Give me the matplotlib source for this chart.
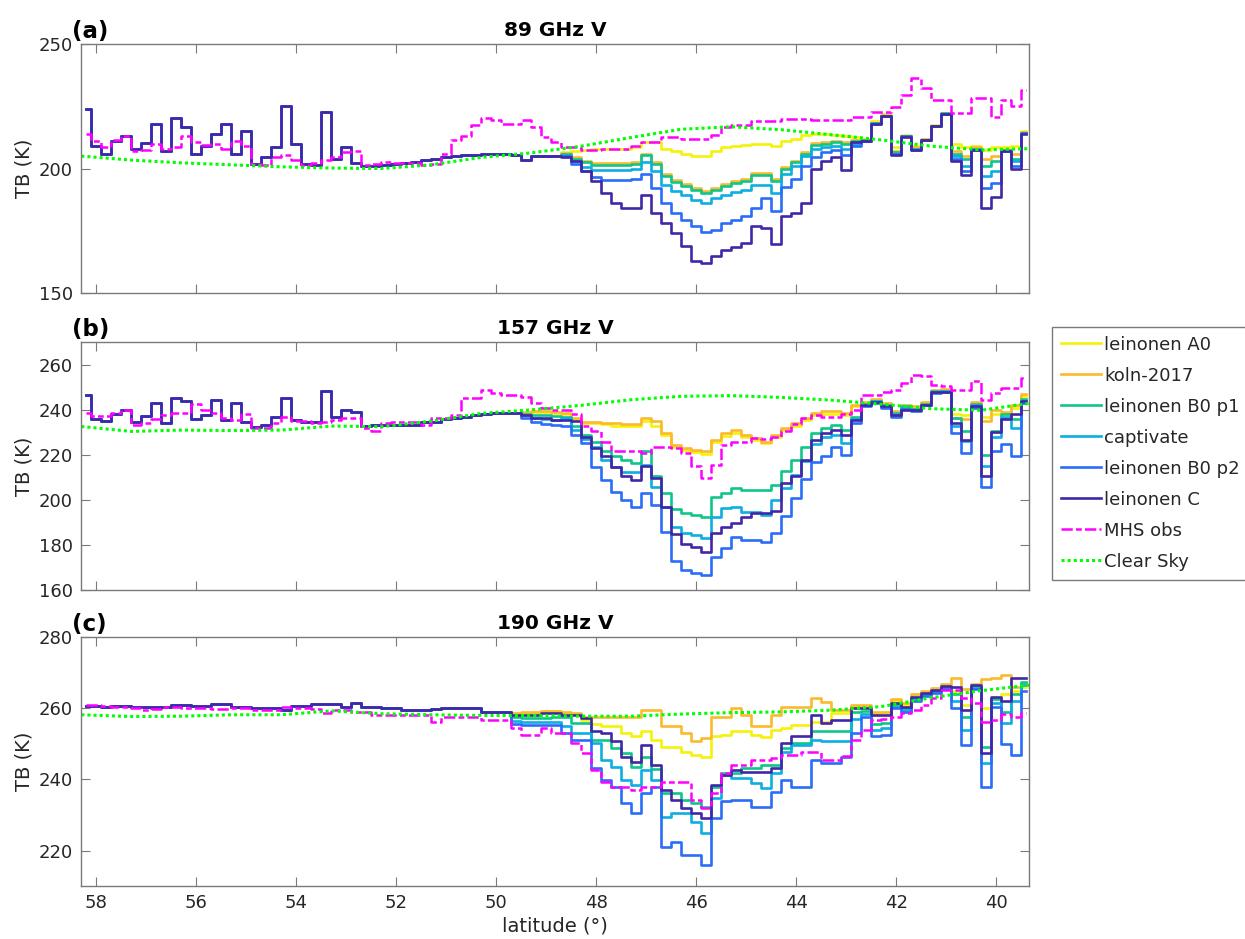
import matplotlib
matplotlib.use("Agg")
import matplotlib.pyplot as plt

# latitude of each footprint (bin centres, 0.2 deg)
lat = [58.2, 58.0, 57.8, 57.6, 57.4, 57.2, 57.0, 56.8, 56.6, 56.4, 56.2, 56.0,
       55.8, 55.6, 55.4, 55.2, 55.0, 54.8, 54.6, 54.4, 54.2, 54.0, 53.8, 53.6,
       53.4, 53.2, 53.0, 52.8, 52.6, 52.4, 52.2, 52.0, 51.8, 51.6, 51.4, 51.2,
       51.0, 50.8, 50.6, 50.4, 50.2, 50.0, 49.8, 49.6, 49.4, 49.2, 49.0, 48.8,
       48.6, 48.4, 48.2, 48.0, 47.8, 47.6, 47.4, 47.2, 47.0, 46.8, 46.6, 46.4,
       46.2, 46.0, 45.8, 45.6, 45.4, 45.2, 45.0, 44.8, 44.6, 44.4, 44.2, 44.0,
       43.8, 43.6, 43.4, 43.2, 43.0, 42.8, 42.6, 42.4, 42.2, 42.0, 41.8, 41.6,
       41.4, 41.2, 41.0, 40.8, 40.6, 40.4, 40.2, 40.0, 39.8, 39.6, 39.4]

lat_clear = [58.3, 57.3, 56.3, 55.3, 54.3, 53.3, 52.3, 51.3, 50.3, 49.3,
             48.3, 47.3, 46.3, 45.3, 44.3, 43.3, 42.3, 41.3, 40.3, 39.3]

labels = ["leinonen A0", "koln-2017", "leinonen B0 p1", "captivate",
          "leinonen B0 p2", "leinonen C"]
colors = ["#F5F20A", "#FBB92C", "#0FC68A", "#0CAFE0", "#2B6DF7", "#4127A8"]

###############################################################################
# 89 GHz V
shared_89 = [224, 209, 206, 211, 213, 208, 210.2, 218, 207, 220.5, 216.8, 206,
             209, 214, 218, 206, 215, 202, 204.8, 208.7, 225, 210, 202, 201.5,
             222.6, 204, 208.5, 202.3, 201.2, 201, 201.3, 201.8,
             202.2, 202.8, 203.5, 204, 204.5, 205, 205.3, 205.5, 205.8, 205.8,
             205.8, 205.5, 203.5, 205, 205, 205]

a0_89 = shared_89 + [206.5, 207, 207.5, 208, 208, 208, 208, 208.5, 210.5, 210.5,
                     208, 207, 206, 205.2, 205, 207, 208.5, 209, 209.5, 210, 210,
                     209, 211, 212, 213.5, 214, 214, 213.5, 213, 212.5] + \
    [212, 219, 222, 208.5, 213.5, 209, 212, 217.5, 222.5, 210, 208.5, 209, 207.5,
     208.5, 208.5, 209, 215]
koln_89 = shared_89 + [206.3, 204.5, 203, 202.2, 202.2, 202.2, 202.2, 202.7, 206,
                       202.7, 197.8, 195.3, 193.8, 192.3, 190.8, 192.3, 193.8,
                       194.8, 195.8, 198.2, 198.2, 195.8, 200.7, 203.2, 206.7,
                       210.2, 210.7, 211.2, 210.7, 211.6] + \
    [211.5, 218.5, 221.5, 207, 213, 208.5, 211.8, 217.2, 222.3, 207, 205, 208.5,
     204, 205, 207.5, 206, 214.5]
b0p1_89 = shared_89 + [206, 204, 202.5, 201.5, 201.5, 201.5, 201.5, 202, 205.4,
                       202, 197, 194.5, 193, 191.5, 190, 191.5, 193, 194, 195,
                       197.5, 197.5, 195, 200, 202.5, 206, 209.5, 210, 210.5,
                       210, 211] + \
    [211.3, 218.3, 221.3, 206.5, 213, 208, 211.6, 217.1, 222.2, 206, 204, 208,
     201, 203, 207.3, 204, 214.3]
capt_89 = shared_89 + [205.5, 203, 200.5, 199.5, 199.4, 199.4, 199.4, 200, 202.7,
                       199, 193.5, 191, 189.3, 187.5, 186, 188, 189.5, 190.5,
                       191.5, 193.4, 193.4, 190, 198, 201, 205, 208, 208.5, 209,
                       208, 210] + \
    [211.2, 218.2, 221.2, 206, 212.9, 207.7, 211.5, 217, 222.1, 205, 201, 207.7,
     197, 199, 207.2, 203, 214.2]
b0p2_89 = shared_89 + [205, 202, 199, 196.5, 195.4, 195.4, 195.4, 196, 198, 192,
                       186, 182, 179.3, 177, 174.6, 175.5, 178, 179.5, 181, 184,
                       188, 183, 192.7, 196, 201, 204.8, 206.5, 207.4, 205.5,
                       209] + \
    [211.1, 218.1, 221.1, 205.7, 212.9, 207.5, 211.5, 217, 222, 204, 199, 207.5,
     192, 194, 207.1, 201, 214.1]
c_89 = shared_89 + [204.5, 203, 199, 195, 190, 186, 184, 184, 189.4, 182, 178,
                    174, 169, 163, 162, 165, 167.3, 168.5, 170, 177, 176, 169.5,
                    181, 182, 186, 200, 203, 204.8, 199.5, 210.5] + \
    [211, 218, 221, 205.4, 212.8, 207.4, 211.4, 217, 222, 203, 197.4, 207.4,
     184, 188.7, 207, 200, 214]
mhs_89 = [214, 211, 208.8, 211.5, 213, 207, 207.5, 210, 208, 208.8, 213, 210.5,
          209.5, 210, 208, 211, 209, 202, 201.5, 204.5, 205.5, 203.5, 201.5,
          202.3, 203.6, 204.5, 206.5, 207, 201.4, 201.8, 202.8, 202.3,
          202.3, 202.3, 201.6, 202, 206, 211.5, 213, 217.5, 220.5, 219.5, 218,
          218, 219.5, 216.8, 212.8, 210.8, 208.8, 208.8, 207.4, 207.4, 208, 208,
          208, 209, 210.8, 210.8, 212.8, 212.8, 212, 212, 212, 213.5, 216.8,
          217.5, 217.5, 219.2, 219.2, 219.2, 220.1, 220.1, 220.1, 219.5, 219.5,
          219.5, 219.5, 220.8, 220.8, 222.8, 222.8, 224.8, 229.5, 236.2, 232.2,
          227.5, 227.5, 222.2, 222.2, 228.2, 228.2, 220.8, 227.5, 225, 231.5]
clear_89 = [205, 203.4, 202.3, 201.5, 200.7, 200.2, 200, 201.5, 204.5, 206.3,
            209, 212.5, 215.8, 216.8, 215.6, 213.6, 211.5, 209, 207.5, 208]

###############################################################################
# 157 GHz V
shared_157 = [246.7, 236, 235, 238.2, 240, 234.8, 237.3, 243, 234, 245.2, 243.7,
              236, 237.8, 244.5, 235.6, 243, 234.8, 232.3, 233.3, 237, 245.2,
              235.6, 234.4, 234.4, 248.4, 236.7, 240, 239, 233, 233.3, 233.3,
              233.3, 233.3, 233.3, 234.8, 234.8, 236, 236.5, 237, 237.5, 238,
              238.5, 238.5, 238.5]

a0_157 = shared_157 + [238.8, 239, 239, 238.8] + \
    [238, 236, 234.3, 234.3, 233.6, 233, 232.6, 232.6, 235, 233, 228.9, 223.5,
     222.3, 221.2, 220.5, 225.7, 228.2, 229.6, 228, 226.6, 225.2, 228, 231, 233,
     235.3, 237.5, 238.3, 238.3, 237.8, 241.5] + \
    [243, 244.5, 242.5, 239, 241.5, 241, 243, 248.5, 249, 238, 237.5, 243, 237,
     238, 238, 241, 246]
koln_157 = shared_157 + [239, 239.3, 239.3, 239] + \
    [238.5, 236.5, 234.8, 234.8, 234.1, 234.1, 233.8, 233.8, 236.3, 235, 229.6,
     224.5, 223, 222.2, 221.5, 226.7, 229.6, 231.1, 228.9, 227.4, 225.9, 228.9,
     232, 234.1, 236.3, 238.5, 239.3, 239.3, 238.5, 242.2] + \
    [243.5, 245, 243, 239.5, 242, 241.5, 243.5, 248.7, 249.2, 236.5, 236, 243.5,
     235, 240, 239, 242, 247]
b0p1_157 = shared_157 + [238, 237.5, 237.5, 237.3] + \
    [237, 232.6, 229, 225.9, 221.5, 219.3, 217.5, 216.3, 221.5, 210.4, 203, 196,
     194.1, 193.3, 192.6, 201.5, 203, 205.2, 204.4, 204.4, 204.4, 206.7, 213,
     217.5, 223.4, 229.6, 231.9, 233.3, 231, 237] + \
    [242.5, 244, 242, 238.5, 241.5, 240.5, 242.5, 248.2, 248.5, 236.3, 230.4,
     242.5, 220, 230.4, 238, 236, 245]
capt_157 = shared_157 + [237.5, 236.5, 236, 235.5] + \
    [236.3, 231.1, 227, 223.7, 217.8, 214.8, 212.6, 212.6, 215.5, 205.9, 197, 188,
     185.2, 184.4, 183, 192.6, 196.3, 197, 194.8, 194.8, 193.3, 200, 205.5, 211,
     217.4, 225, 228.1, 228.9, 225.2, 236] + \
    [242.2, 243.8, 241.8, 238, 241, 240.2, 242.3, 248, 248.3, 233, 226, 242, 215,
     228, 237, 232, 244]
b0p2_157 = shared_157 + [236.5, 234.5, 233.5, 233.3] + \
    [232.6, 229, 225.2, 214.8, 208.9, 203.7, 200, 197, 203, 197.8, 185.9, 173,
     168.9, 167.4, 166.7, 174.8, 178.5, 183.7, 182.2, 182.2, 181.5, 185.2, 193,
     201, 209.2, 216.7, 219.3, 223.7, 220, 234] + \
    [241.5, 243, 241, 237, 240.5, 239.5, 242, 247.5, 248, 229.6, 220.7, 241,
     205.9, 221.5, 225, 219.3, 243]
c_157 = shared_157 + [237.5, 236.3, 236.3, 235.5] + \
    [235.6, 235, 228.1, 223, 219.3, 214.8, 210.4, 208.9, 215, 209.6, 197, 185,
     180.5, 179.3, 177, 185.2, 188.1, 189.6, 192.6, 194.1, 194.1, 195, 207.4,
     210.4, 217.8, 226.6, 229.6, 231.1, 229, 235.6] + \
    [242, 243.5, 241.5, 237.8, 240, 240, 242.2, 248, 248.1, 234.1, 226.7, 241.5,
     210.4, 230, 236, 238, 243.7]
mhs_157 = [238.5, 237.3, 237.3, 238.8, 240, 233.3, 234, 236, 237.5, 238.5, 238.5,
           242.7, 240, 238.5, 236.3, 235.6, 238, 231.9, 231.9, 234, 236.7, 235.1,
           235, 234, 234.8, 235.6, 236.3, 236.3, 231.9, 230.4, 234, 234.8,
           234.8, 234.8, 233.3, 236.3, 236.3, 237.5, 245.2, 245.2, 248.9, 247.4,
           246.7, 246.7, 245.9, 243, 240.7, 240,
           240, 238, 233, 230.4, 225.9, 221.5, 221.5, 221.5, 221, 223.7, 223.5,
           223, 220.7, 215, 209.6, 215.6, 224.4, 225.9, 225.9, 227.4, 227, 228.1,
           230.4, 233.7, 236.3, 237.8, 237, 237, 238, 240,
           246.7, 246.7, 248, 248.9, 251.9, 255.6, 255, 251.1, 250.4, 248.9, 249,
           253, 244.4, 247.4, 249.6, 249.6, 254]
clear_157 = [232.6, 230.4, 231, 230.8, 231, 232.8, 232.5, 235, 238.4, 240, 242,
             244.5, 246, 246.3, 245.5, 244.3, 242.5, 240.5, 239.8, 243]

###############################################################################
# 190 GHz V
shared_190 = [260.7, 260.7, 260.5, 260.7, 260.7, 260.3, 260.3, 260.5, 260.5,
              260.9, 260.9, 260.7, 260.7, 261.3, 261.2, 260.3, 260.3, 260, 260,
              260, 259.6, 260.7, 260.7, 261.3, 261.3, 261.3, 260.5, 261.5, 260.3,
              260.3, 260, 260, 259.6, 259.6, 259.6, 259.8, 260, 260, 260, 260,
              259.1, 259.1, 259.1]

a0_190 = shared_190 + \
    [258.8, 258.8, 258.8, 259.2, 259.2, 258.8, 258.5, 256.8, 255.5, 254.9, 254.9,
     253, 252.3, 253.5, 251.1, 249.2, 249.2, 247.8, 246.9, 246.4, 252.1, 252.5,
     253.5, 253.5, 252.5, 252, 253.9, 254.5, 255.4, 255.4, 256.3, 256.3, 258.6,
     258.6, 260.5] + \
    [260.5, 258.5, 258.7, 262, 261, 263.8, 264.6, 265.4, 266.4, 265, 261, 266.2,
     260, 263, 264, 265, 266]
koln_190 = shared_190 + \
    [258.8, 259, 259, 259.3, 259.3, 259, 258.6, 257.7, 257.7, 257.7, 257.7, 257.7,
     257.7, 259.6, 259.6, 254.9, 254.9, 253, 250.7, 251.6, 257.7, 257.7, 260,
     258.2, 254.9, 254.9, 258.2, 260.5, 260.5, 260.5, 262.9, 261.9, 259.6, 259.6,
     261] + \
    [261, 259, 259, 262.5, 261.5, 264, 265, 265.8, 266.8, 268.5, 265.5, 266.8,
     268.3, 268.5, 269.5, 266, 267]
b0p1_190 = shared_190 + \
    [257.5, 257.2, 257.2, 257.2, 257.5, 257.5, 255.8, 255.8, 251.1, 251.1, 248.8,
     247.4, 243.6, 246.4, 243, 236.1, 236.1, 234.2, 233.3, 232.3, 238, 241.7,
     241.7, 243.1, 243.1, 244.1, 244.1, 248.8, 250.2, 250.2, 253.5, 253.5, 253.5,
     253.5, 259.1] + \
    [259.3, 255.5, 256, 261, 260, 263, 264, 265, 266, 264, 257.7, 266.2, 249.2,
     262.5, 259, 264, 267.5]
capt_190 = shared_190 + \
    [256.5, 256.3, 256.3, 256.3, 256.3, 255, 253, 253, 250.2, 245.5, 243.6, 239.9,
     238.5, 242.7, 239.9, 229.5, 230.5, 230.5, 228.1, 224.8, 234.7, 241.3, 240.3,
     240.3, 238.9, 237.5, 241.7, 247.8, 249.7, 249.7, 251.1, 250.7, 250.7, 250.7,
     257] + \
    [258.5, 254, 254.5, 260.5, 259.5, 262.5, 263.7, 264.7, 265.7, 262, 254,
     265.8, 244.6, 261.5, 256, 262, 266.5]
b0p2_190 = shared_190 + \
    [255.5, 255.4, 255.4, 255.4, 255.4, 253, 251.1, 251.1, 243.1, 239.9, 238,
     233.3, 230.5, 236.1, 238, 221.1, 222.5, 218.7, 218.7, 216, 229.1, 233.8,
     234.2, 234.2, 232.3, 232.3, 236.6, 239.9, 238, 238, 245.5, 244.6, 244.6,
     246.4, 253] + \
    [257.5, 252.1, 252.5, 260, 259, 262, 263.4, 264.4, 265.4, 260, 249.7, 265.5,
     238, 260.5, 250, 247, 265]
c_190 = shared_190 + \
    [258.2, 258.2, 258.2, 258.8, 258.8, 258.2, 258.2, 257.2, 253.5, 253, 250.7,
     246.4, 245, 249.7, 244, 237, 234.2, 231.9, 230.5, 229.1, 238.5, 241.3, 242.7,
     242.2, 242.2, 242.2, 243.1, 250.2, 252.1, 252.1, 258.2, 255.8, 256.8, 256.8,
     260] + \
    [260, 258, 258.2, 261.5, 260.5, 263.3, 264.3, 265.2, 266.2, 266, 259.6, 266.6,
     247.4, 263.3, 262, 268.5, 268.5]
mhs_190 = [261, 260.9, 260.6, 260.5, 260.5, 260, 259.6, 259.8, 260.3, 260.3,
           260.1, 260, 260, 259.8, 259.8, 260, 260, 259.6, 259.6, 259.6, 260.3,
           260, 260, 259.8, 258.6, 259.6, 259.6, 259, 259, 258.2, 258.2, 258.2,
           258.2, 258.2, 258.2, 256.3, 257.7, 257.7, 257.7, 257.7, 256.8, 256.8,
           256.8,
           254.4, 252.5, 252.5, 254.4, 253, 253, 250.2, 247.4, 242.7, 239.4, 238,
           238, 237, 238, 238, 239.4, 239.4, 239.4, 234.2, 231.9, 236.1, 241.7,
           244.1, 244.1, 245.5, 245.5, 246, 246.9, 246.9, 247.8, 247.8, 245.5,
           245.5, 246.5, 251.1,
           254, 256.8, 257, 257.7, 258.6, 259.6, 261, 263, 265.2, 265.2, 262.9,
           261.5, 256.3, 256.8, 258.5, 257.5, 258.6]
clear_190 = [258.2, 257.7, 257.8, 258.2, 258.2, 259.3, 258.5, 258.2, 258, 258,
             257.8, 257.8, 258.4, 258.8, 259, 259.5, 260.5, 263, 265, 266.6]

###############################################################################
panels = [
    ("(a)", "89 GHz V", [a0_89, koln_89, b0p1_89, capt_89, b0p2_89, c_89],
     mhs_89, clear_89, (150, 250), [150, 200, 250]),
    ("(b)", "157 GHz V", [a0_157, koln_157, b0p1_157, capt_157, b0p2_157, c_157],
     mhs_157, clear_157, (160, 270), [160, 180, 200, 220, 240, 260]),
    ("(c)", "190 GHz V", [a0_190, koln_190, b0p1_190, capt_190, b0p2_190, c_190],
     mhs_190, clear_190, (210, 280), [220, 240, 260, 280]),
]

plt.rcParams["font.family"] = "DejaVu Sans"
fig = plt.figure(figsize=(12.45, 9.39), dpi=100)

boxes = [[0.0653, 0.688, 0.761, 0.265],
         [0.0653, 0.3717, 0.761, 0.2638],
         [0.0653, 0.0564, 0.761, 0.2649]]

text_col = "#262626"
edge_col = "#7a7a7a"

for k, (tag, title, models, mhs, clear, ylim, yticks) in enumerate(panels):
    ax = fig.add_axes(boxes[k])
    for vals, col, lab in zip(models, colors, labels):
        ax.step(lat, vals, where="mid", color=col, lw=1.9, label=lab)
    ax.step(lat, mhs, where="mid", color="#FF00FF", lw=1.8,
            linestyle=(0, (4.5, 1.3, 2.3, 1.3)), label="MHS obs")
    ax.plot(lat_clear, clear, color="#00FF00", lw=2.2,
            linestyle=(0, (1, 1.0)), label="Clear Sky")

    ax.set_xlim(58.3, 39.35)
    ax.set_ylim(*ylim)
    ax.set_yticks(yticks)
    ax.set_xticks([58, 56, 54, 52, 50, 48, 46, 44, 42, 40])
    ax.tick_params(direction="in", top=True, right=True, length=6.5,
                   width=0.8, color=edge_col, labelcolor=text_col,
                   labelsize=13, pad=6)
    for sp in ax.spines.values():
        sp.set_color(edge_col)
        sp.set_linewidth(1.0)
    if k < 2:
        ax.set_xticklabels([])
    else:
        ax.set_xlabel("latitude (°)", fontsize=14, color=text_col, labelpad=3)
    ax.set_ylabel("TB (K)", fontsize=14, color=text_col, labelpad=4)
    ax.set_title(title, fontsize=14.5, fontweight="bold", pad=6)
    ax.text(-0.01, 1.006, tag, transform=ax.transAxes, ha="left", va="bottom",
            fontsize=16.5, fontweight="bold")
    if k == 1:
        handles, labs = ax.get_legend_handles_labels()

leg = fig.legend(handles, labs, loc="upper left",
                 bbox_to_anchor=(0.845, 0.652), fontsize=13, frameon=True,
                 fancybox=False, edgecolor=edge_col, framealpha=1,
                 handlelength=2.2, handletextpad=0.2, labelspacing=0.72,
                 borderpad=0.5, borderaxespad=0)
leg.get_frame().set_linewidth(1.0)
for t in leg.get_texts():
    t.set_color(text_col)

fig.savefig("out.png", dpi=100)
